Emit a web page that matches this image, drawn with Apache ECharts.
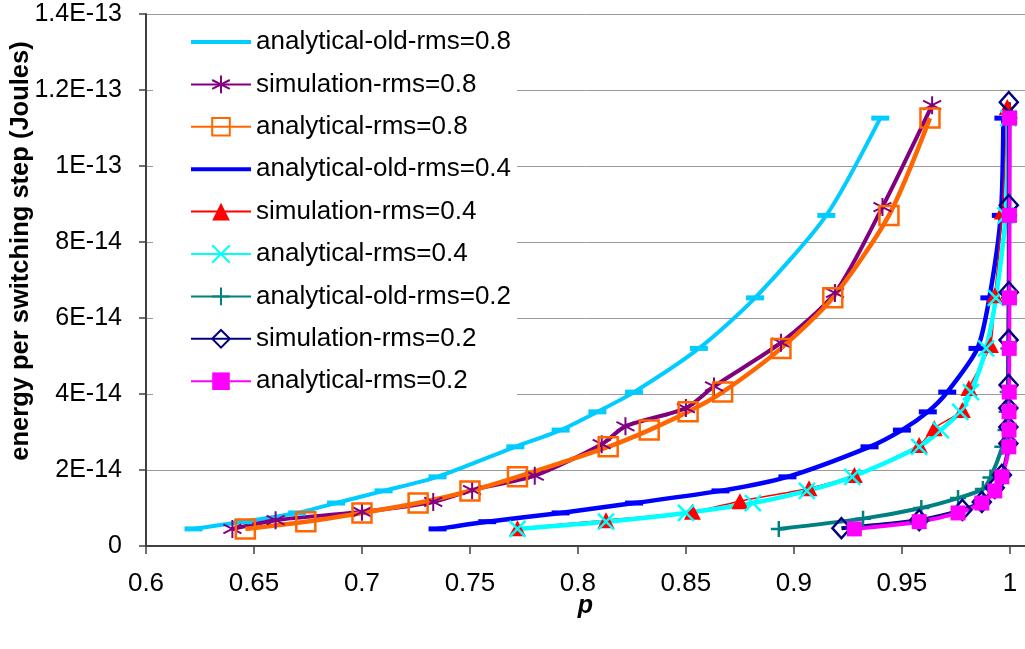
<!DOCTYPE html>
<html>
<head>
<meta charset="utf-8">
<script src="https://cdn.jsdelivr.net/npm/echarts@6/dist/echarts.min.js"></script>
<style>
  html, body { margin: 0; padding: 0; background: #fff; }
  #chart { width: 1025px; height: 649px; }
</style>
</head>
<body>
<div id="chart"></div>
<script>
// energy values are in units of 1e-14 J
const xTicks = [0.6, 0.65, 0.7, 0.75, 0.8, 0.85, 0.9, 0.95, 1];
const yTickLabels = ["0", "2E-14", "4E-14", "6E-14", "8E-14", "1E-13", "1.2E-13", "1.4E-13"];

const oldRms08 = [[0.622, 0.45], [0.645, 0.64], [0.670, 0.87], [0.688, 1.13], [0.710, 1.45], [0.735, 1.82], [0.771, 2.61], [0.792, 3.05], [0.809, 3.53], [0.826, 4.05], [0.856, 5.2], [0.882, 6.53], [0.915, 8.7], [0.940, 11.26]];
const simRms08 = [[0.640, 0.45], [0.660, 0.68], [0.700, 0.9], [0.733, 1.16], [0.751, 1.47], [0.780, 1.85], [0.811, 2.68], [0.822, 3.15], [0.850, 3.63], [0.863, 4.2], [0.894, 5.35], [0.919, 6.66], [0.941, 8.92], [0.964, 11.6]];
const anRms08 = [[0.646, 0.45], [0.674, 0.64], [0.700, 0.87], [0.726, 1.13], [0.750, 1.45], [0.772, 1.82], [0.814, 2.61], [0.833, 3.05], [0.851, 3.53], [0.867, 4.05], [0.894, 5.2], [0.918, 6.53], [0.944, 8.7], [0.963, 11.26]];
const oldRms04 = [[0.735, 0.45], [0.758, 0.64], [0.792, 0.87], [0.826, 1.13], [0.866, 1.45], [0.897, 1.82], [0.935, 2.61], [0.950, 3.05], [0.962, 3.53], [0.971, 4.05], [0.985, 5.2], [0.9905, 6.53], [0.9958, 8.7], [0.997, 11.26]];
const simRms04 = [[0.772, 0.47], [0.813, 0.68], [0.853, 0.9], [0.875, 1.18], [0.907, 1.52], [0.928, 1.87], [0.958, 2.66], [0.965, 3.1], [0.978, 3.58], [0.981, 4.16], [0.991, 5.29], [0.993, 6.6], [0.9965, 8.8], [0.9988, 11.55]];
const anRms04 = [[0.772, 0.45], [0.813, 0.64], [0.850, 0.87], [0.881, 1.13], [0.906, 1.45], [0.927, 1.82], [0.958, 2.61], [0.968, 3.05], [0.977, 3.53], [0.982, 4.05], [0.989, 5.2], [0.9935, 6.53], [0.998, 8.7], [0.9993, 11.26]];
const oldRms02 = [[0.893, 0.45], [0.932, 0.72], [0.959, 1.0], [0.976, 1.26], [0.9875, 1.5], [0.991, 1.8], [0.9965, 2.61], [0.998, 3.05], [0.9985, 3.53], [0.999, 4.05], [0.9993, 5.2], [0.9995, 6.53], [0.9997, 8.7], [0.9998, 11.26]];
const simRms02 = [[0.922, 0.47], [0.958, 0.68], [0.978, 0.95], [0.987, 1.16], [0.993, 1.53], [0.9963, 1.87], [0.9993, 2.7], [0.9993, 3.13], [0.9993, 3.63], [0.9994, 4.24], [0.9994, 5.42], [0.9995, 6.68], [0.9995, 8.97], [0.9995, 11.68]];
const anRms02 = [[0.928, 0.45], [0.958, 0.64], [0.976, 0.87], [0.987, 1.13], [0.993, 1.45], [0.9963, 1.82], [0.9995, 2.61], [0.9996, 3.05], [0.9996, 3.53], [0.9997, 4.05], [0.9997, 5.2], [0.9998, 6.53], [0.9998, 8.7], [0.9999, 11.26]];

const FONT = "Liberation Sans, Arial, sans-serif";
const DASH = "path://M0,0H20V5H0Z";
const STAR = "path://M8,0V16M1,4L15,12M1,12L15,4";
const CROSS = "path://M0,0L16,16M0,16L16,0";
const PLUS = "path://M8,0V16M0,8H16";
const NONE = "rgba(0,0,0,0)";

function line(name, data, color, width, symbol, size, fill, border) {
  return {
    name: name,
    type: "line",
    data: data,
    smooth: 0.25,
    symbol: symbol,
    symbolSize: size,
    showAllSymbol: true,
    lineStyle: { color: color, width: width },
    itemStyle: { color: fill, borderColor: color, borderWidth: border },
    emphasis: { disabled: true },
  };
}

const series = [
  line("analytical-old-rms=0.8", oldRms08, "#00CCFF", 4, DASH, [18, 5], "#00CCFF", 0),
  line("simulation-rms=0.8", simRms08, "#800080", 4, STAR, [18, 18], "#800080", 2),
  line("analytical-rms=0.8", anRms08, "#FF6600", 4.5, "rect", [19, 19], NONE, 2.5),
  line("analytical-old-rms=0.4", oldRms04, "#0000FF", 4.5, DASH, [18, 5], "#0000FF", 0),
  line("simulation-rms=0.4", simRms04, "#FF0000", 1.5, "triangle", [17, 16], "#FF0000", 0),
  line("analytical-rms=0.4", anRms04, "#00FFFF", 4.5, CROSS, [16, 16], "#00FFFF", 2.5),
  line("analytical-old-rms=0.2", oldRms02, "#008080", 4, PLUS, [16, 16], "#008080", 2.5),
  line("simulation-rms=0.2", simRms02, "#000080", 4, "diamond", [18, 20], NONE, 2.5),
  line("analytical-rms=0.2", anRms02, "#FF00FF", 4, "rect", [15, 15], "#FF00FF", 0),
];

const legendData = series.map(function (s) {
  if (s.symbol === DASH) {
    return { name: s.name, icon: "path://M0,0H60V4H0Z" };
  }
  return { name: s.name };
});

const chart = echarts.init(document.getElementById("chart"));
chart.setOption({
  animation: false,
  backgroundColor: "#fff",
  textStyle: { fontFamily: FONT },
  grid: { left: 146, right: 0, top: 14, bottom: 103, containLabel: false, outerBoundsMode: "none" },
  legend: {
    orient: "vertical",
    left: 153,
    top: 22,
    padding: [7, 6, 9, 37],
    backgroundColor: "#fff",
    itemWidth: 60,
    itemHeight: 22,
    itemGap: 16.4,
    textStyle: { fontFamily: FONT, fontSize: 26, lineHeight: 26, color: "#000" },
    data: legendData,
  },
  xAxis: {
    type: "value",
    min: 0.6,
    max: 1.007,
    name: "p",
    nameLocation: "middle",
    nameGap: 48,
    nameMoveOverlap: false,
    nameTextStyle: { fontFamily: FONT, fontSize: 25, fontWeight: "bold", fontStyle: "italic", color: "#000" },
    axisLine: { show: true, onZero: false, lineStyle: { color: "#404040", width: 2 } },
    axisTick: { show: true, inside: false, length: 8, customValues: xTicks, lineStyle: { color: "#404040", width: 1.5 } },
    axisLabel: { customValues: xTicks, margin: 25, fontSize: 26, color: "#000", fontFamily: FONT },
    splitLine: { show: false },
  },
  yAxis: {
    type: "value",
    min: 0,
    max: 14,
    interval: 2,
    name: "energy per switching step (Joules)",
    nameLocation: "middle",
    nameGap: 112,
    nameMoveOverlap: false,
    nameTextStyle: { fontFamily: FONT, fontSize: 25.5, fontWeight: "bold", color: "#000", padding: [0, 0, 0, 58] },
    axisLine: { show: true, lineStyle: { color: "#404040", width: 2 } },
    axisTick: { show: true, inside: false, length: 7, lineStyle: { color: "#404040", width: 1.5 } },
    axisLabel: {
      margin: 24,
      fontSize: 25,
      color: "#000",
      fontFamily: FONT,
      formatter: function (v) { return yTickLabels[Math.round(v / 2)]; },
    },
    splitLine: { show: true, lineStyle: { color: "#999", width: 1 } },
  },
  series: series,
});
</script>
</body>
</html>
